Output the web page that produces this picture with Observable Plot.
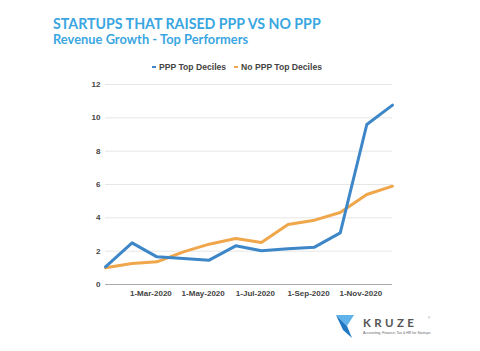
<!DOCTYPE html>
<html>
<head>
<meta charset="utf-8">
<script src="https://cdn.jsdelivr.net/npm/d3@7"></script>
<script src="https://cdn.jsdelivr.net/npm/@observablehq/plot@0.6"></script>
<style>
  html, body { margin: 0; padding: 0; background: #fff; }
  #wrap { position: relative; width: 480px; height: 351px; overflow: hidden; background: #fff; font-family: "Liberation Sans", Arial, sans-serif; }
  .ttl { position: absolute; left: 53px; font-family: Lato, "Open Sans", sans-serif; font-weight: 700; color: #3aa6df; white-space: nowrap; line-height: 1; }
  #title { top: 17.4px; font-size: 14.2px; letter-spacing: 0px; }
  #subtitle { top: 33px; font-size: 12.8px; letter-spacing: 0.05px; }
  #legend { position: absolute; left: 0; width: 474px; top: 62px; text-align: center; font-size: 8.6px; font-weight: 700; color: #444; white-space: nowrap; }
  #legend span.item { margin: 0 4px 0 4px; }
  #legend i { display: inline-block; width: 4px; height: 2px; vertical-align: middle; margin-right: 3px; position: relative; top: -1px; }
  #chart { position: absolute; left: 0; top: 0; }
  #logo { position: absolute; left: 0; top: 0; }
</style>
</head>
<body>
<div id="wrap">
  <div id="chart"></div>
  <div id="title" class="ttl">STARTUPS THAT RAISED PPP VS NO PPP</div>
  <div id="subtitle" class="ttl">Revenue Growth - Top Performers</div>
  <div id="legend"></div>
  <svg id="logo" width="480" height="351">
    <polygon points="336,315 354,315 347,326" fill="#5fb3ea"/>
    <polygon points="336,315 347,326 352,338 343,330" fill="#1f78c1"/>
    <text x="363" y="326.5" font-family="Lato, 'Open Sans', sans-serif" font-weight="700" font-size="11.5" fill="#555" letter-spacing="3.4">KRUZE</text>
    <text x="428" y="319" font-size="3" fill="#777">®</text>
    <text x="363" y="334" font-size="3.5" fill="#666">Accounting, Finance, Tax &amp; HR for Startups</text>
  </svg>
</div>
<script>
const months = ["2020-01-08","2020-02-08","2020-03-08","2020-04-08","2020-05-08","2020-06-08",
                "2020-07-08","2020-08-08","2020-09-08","2020-10-08","2020-11-08","2020-12-08"];
const pppTop   = [1.06, 2.50, 1.66, 1.56, 1.46, 2.32, 2.02, 2.14, 2.24, 3.10, 9.60, 10.76];
const noPppTop = [1.00, 1.26, 1.36, 1.96, 2.42, 2.76, 2.52, 3.60, 3.86, 4.32, 5.40, 5.90];
const seriesNames = ["PPP Top Deciles", "No PPP Top Deciles"];
const seriesColors = ["#3d87c8", "#f0a64a"];
const xTicks = ["2020-03-01","2020-05-01","2020-07-01","2020-09-01","2020-11-01"];
const yTicks = [0, 2, 4, 6, 8, 10, 12];

const parse = d3.utcParse("%Y-%m-%d");
const rows = [];
months.forEach((m, i) => {
  rows.push({date: parse(m), value: pppTop[i], series: seriesNames[0]});
  rows.push({date: parse(m), value: noPppTop[i], series: seriesNames[1]});
});

const fmt = d3.utcFormat("%-d-%b-%Y");

const plot = Plot.plot({
  width: 480,
  height: 351,
  marginLeft: 105,
  marginRight: 88,
  marginTop: 84,
  marginBottom: 67,
  style: {fontFamily: "'Liberation Sans', Arial, sans-serif", fontSize: "8px", fontWeight: "bold", color: "#444", background: "transparent"},
  x: {type: "utc", domain: [parse(months[0]), parse(months[months.length - 1])], ticks: xTicks.map(parse), tickFormat: fmt, tickSize: 0, tickPadding: 6, label: null},
  y: {domain: [0, 12], ticks: yTicks, tickSize: 0, tickPadding: 5, label: null},
  color: {domain: seriesNames, range: seriesColors},
  marks: [
    Plot.gridY(yTicks.filter(t => t > 0), {stroke: "#e6e6e6", strokeOpacity: 1, strokeWidth: 1}),
    Plot.ruleY([0], {stroke: "#aaa", strokeWidth: 1}),
    Plot.line(rows.filter(r => r.series === seriesNames[1]), {x: "date", y: "value", stroke: "series", strokeWidth: 3}),
    Plot.line(rows.filter(r => r.series === seriesNames[0]), {x: "date", y: "value", stroke: "series", strokeWidth: 3})
  ]
});
document.getElementById("chart").appendChild(plot);

const legend = document.getElementById("legend");
seriesNames.forEach((n, i) => {
  const s = document.createElement("span");
  s.className = "item";
  s.innerHTML = `<i style="background:${seriesColors[i]}"></i>${n}`;
  legend.appendChild(s);
});
</script>
</body>
</html>
